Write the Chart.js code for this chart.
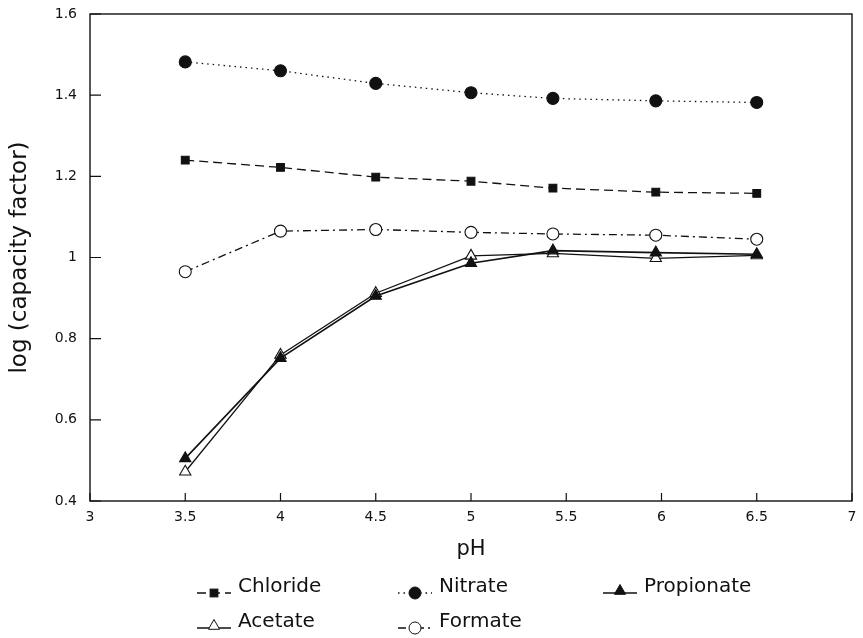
<!DOCTYPE html>
<html>
<head>
<meta charset="utf-8">
<script src="https://cdn.jsdelivr.net/npm/chart.js@4.4.1/dist/chart.umd.min.js"></script>
<style>
  html, body { margin: 0; padding: 0; background: #fff; }
  #wrap { position: relative; width: 863px; height: 638px; }
  #legend { position: absolute; left: 0; top: 0; pointer-events: none; }
</style>
</head>
<body>
<div id="wrap">
  <canvas id="chart" width="863" height="638"></canvas>
  <svg id="legend" width="863" height="638" xmlns="http://www.w3.org/2000/svg"></svg>
</div>
<script>
// pH of each measurement and log(capacity factor) per anion
const phValues = [3.5, 4, 4.5, 5, 5.43, 5.97, 6.5];
const chloride = [1.240, 1.222, 1.198, 1.188, 1.171, 1.161, 1.158];
const nitrate = [1.482, 1.460, 1.429, 1.406, 1.392, 1.386, 1.382];
const propionate = [0.505, 0.752, 0.905, 0.986, 1.017, 1.012, 1.008];
const acetate = [0.472, 0.760, 0.912, 1.004, 1.010, 0.998, 1.005];
const formate = [0.965, 1.065, 1.069, 1.062, 1.058, 1.055, 1.045];

const xTicks = [3, 3.5, 4, 4.5, 5, 5.5, 6, 6.5, 7];
const yTicks = [0.4, 0.6, 0.8, 1, 1.2, 1.4, 1.6];

const FONT = 'DejaVu Sans';
const INK = '#111';

const toPoints = values => values.map((v, i) => ({ x: phValues[i], y: v }));

const series = [
  { label: 'Chloride', data: chloride, pointStyle: 'rect', radius: 5.5, fill: INK, dash: [9, 5], width: 1.3 },
  { label: 'Nitrate', data: nitrate, pointStyle: 'circle', radius: 6, fill: INK, dash: [1.5, 4], width: 1.3 },
  { label: 'Propionate', data: propionate, pointStyle: 'triangle', radius: 6.5, fill: INK, dash: [], width: 1.6 },
  { label: 'Acetate', data: acetate, pointStyle: 'triangle', radius: 6.5, fill: '#fff', dash: [], width: 1.3 },
  { label: 'Formate', data: formate, pointStyle: 'circle', radius: 6, fill: '#fff', dash: [8, 4, 2, 4], width: 1.3 }
];

const datasets = series.map(s => ({
  label: s.label,
  data: toPoints(s.data),
  borderColor: INK,
  borderWidth: s.width,
  borderDash: s.dash,
  pointStyle: s.pointStyle,
  pointRadius: s.radius,
  pointBackgroundColor: s.fill,
  pointBorderColor: INK,
  pointBorderWidth: 1.1,
  tension: 0,
  fill: false
}));

// box round the plot and inward tick marks
const framePlugin = {
  id: 'frame',
  afterDraw(chart) {
    const { ctx, chartArea: a, scales } = chart;
    ctx.save();
    ctx.strokeStyle = INK;
    ctx.lineWidth = 1.4;
    ctx.strokeRect(a.left, a.top, a.right - a.left, a.bottom - a.top);
    ctx.lineWidth = 1.2;
    ctx.beginPath();
    xTicks.forEach(v => {
      const x = scales.x.getPixelForValue(v);
      ctx.moveTo(x, a.bottom);
      ctx.lineTo(x, a.bottom - 8);
    });
    yTicks.forEach(v => {
      const y = scales.y.getPixelForValue(v);
      ctx.moveTo(a.left, y);
      ctx.lineTo(a.left + 11, y);
    });
    ctx.stroke();
    ctx.restore();
  }
};

new Chart(document.getElementById('chart').getContext('2d'), {
  type: 'line',
  data: { datasets },
  options: {
    responsive: false,
    animation: false,
    layout: { padding: { top: 14, right: 11, left: 0, bottom: 0 } },
    plugins: { legend: { display: false }, tooltip: { enabled: false } },
    scales: {
      x: {
        type: 'linear',
        min: 3,
        max: 7,
        afterBuildTicks: scale => { scale.ticks = xTicks.map(v => ({ value: v })); },
        afterFit: scale => { scale.height = 137; scale.paddingLeft = 0; scale.paddingRight = 0; },
        grid: { display: false, drawTicks: false },
        border: { display: false },
        ticks: {
          color: INK,
          font: { family: FONT, size: 14 },
          padding: 8,
          maxRotation: 0,
          callback: v => String(v)
        },
        title: {
          display: true,
          text: 'pH',
          color: INK,
          font: { family: FONT, size: 21 },
          padding: { top: 0, bottom: 76 }
        }
      },
      y: {
        min: 0.4,
        max: 1.6,
        afterBuildTicks: scale => { scale.ticks = yTicks.map(v => ({ value: v })); },
        afterFit: scale => { scale.width = 90; scale.paddingTop = 0; scale.paddingBottom = 0; },
        grid: { display: false, drawTicks: false },
        border: { display: false },
        ticks: {
          color: INK,
          font: { family: FONT, size: 14 },
          padding: 13,
          callback: v => String(+v.toFixed(1))
        },
        title: {
          display: true,
          text: 'log (capacity factor)',
          color: INK,
          font: { family: FONT, size: 23 },
          padding: { top: 6, bottom: 0 }
        }
      }
    }
  },
  plugins: [framePlugin]
});

// legend below the axis: sample line with marker, then the label
const legendCols = [197, 398, 603];
const legendRows = [593, 628];
const legendSlots = [[0, 0], [1, 0], [2, 0], [0, 1], [1, 1]];

const svg = document.getElementById('legend');
const NS = 'http://www.w3.org/2000/svg';
const el = (tag, attrs) => {
  const n = document.createElementNS(NS, tag);
  Object.entries(attrs).forEach(([k, v]) => n.setAttribute(k, v));
  svg.appendChild(n);
  return n;
};

series.forEach((s, i) => {
  const [c, r] = legendSlots[i];
  const x0 = legendCols[c];
  const y = legendRows[r];
  const mx = x0 + 17;
  el('line', {
    x1: x0, y1: y, x2: x0 + 34, y2: y,
    stroke: INK, 'stroke-width': s.width,
    'stroke-dasharray': s.dash.length ? s.dash.join(' ') : 'none'
  });
  const mark = { fill: s.fill, stroke: INK, 'stroke-width': 1 };
  if (s.pointStyle === 'circle') {
    el('circle', Object.assign({ cx: mx, cy: y, r: s.radius }, mark));
  } else if (s.pointStyle === 'rect') {
    const h = s.radius * Math.SQRT1_2;
    el('rect', Object.assign({ x: mx - h, y: y - h, width: 2 * h, height: 2 * h }, mark));
  } else {
    const rr = s.radius;
    const pts = [0, 120, 240].map(d => {
      const a = d * Math.PI / 180;
      return (mx + Math.sin(a) * rr).toFixed(1) + ',' + (y - 2 - Math.cos(a) * rr).toFixed(1);
    }).join(' ');
    el('polygon', Object.assign({ points: pts }, mark));
  }
  const t = el('text', {
    x: x0 + 41, y: y - 1,
    'font-family': FONT, 'font-size': 20, fill: INK
  });
  t.textContent = s.label;
});
</script>
</body>
</html>
